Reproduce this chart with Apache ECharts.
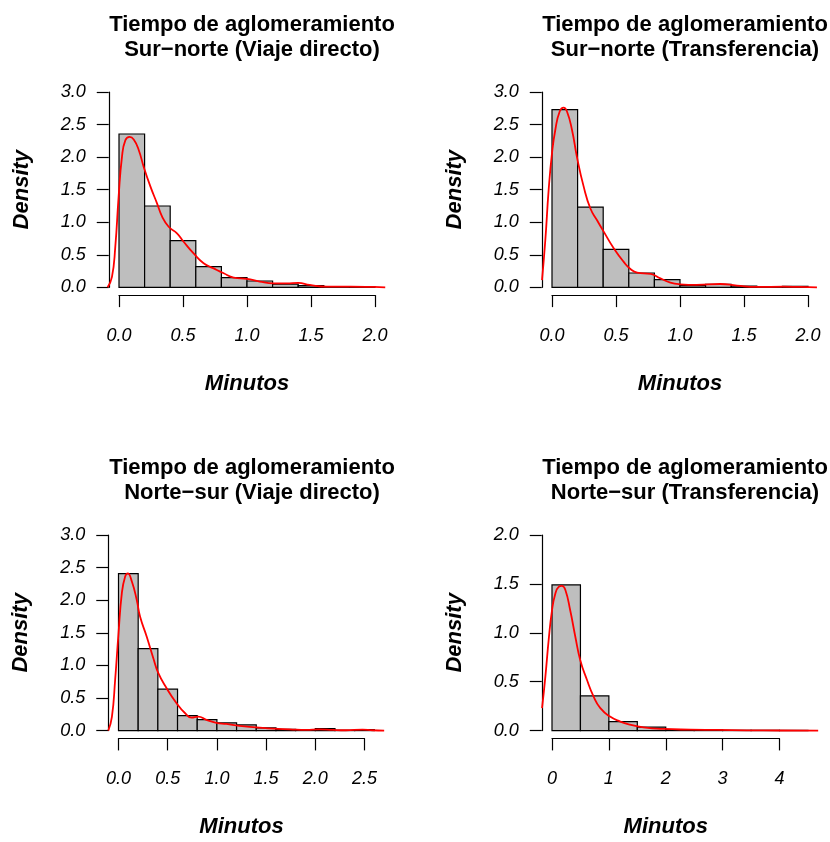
<!DOCTYPE html>
<html>
<head>
<meta charset="utf-8">
<script src="https://cdn.jsdelivr.net/npm/echarts@6/dist/echarts.min.js"></script>
<style>
  html, body { margin: 0; padding: 0; background: #fff; }
  #chart { width: 830px; height: 842px; }
</style>
</head>
<body>
<div id="chart"></div>
<script>
// Histogram bin edges (minutes) and densities for each route
const breaksSN_D = [0, 0.2, 0.4, 0.6, 0.8, 1.0, 1.2, 1.4, 1.6, 1.8, 2.0];
const densSN_D = [2.355, 1.249, 0.716, 0.317, 0.148, 0.097, 0.05, 0.026, 0.01, 0.01];

const breaksSN_T = [0, 0.2, 0.4, 0.6, 0.8, 1.0, 1.2, 1.4, 1.6, 1.8, 2.0];
const densSN_T = [2.728, 1.233, 0.583, 0.22, 0.117, 0.026, 0.046, 0.02, 0.003, 0.015];

const breaksNS_D = [0, 0.2, 0.4, 0.6, 0.8, 1.0, 1.2, 1.4, 1.6, 1.8, 2.0, 2.2, 2.4, 2.6];
const densNS_D = [2.408, 1.258, 0.635, 0.23, 0.169, 0.12, 0.087, 0.041, 0.02, 0.01, 0.03, 0.005, 0.015];

const breaksNS_T = [0, 0.5, 1.0, 1.5, 2.0, 2.5, 3.0, 3.5, 4.0, 4.5];
const densNS_T = [1.49, 0.355, 0.092, 0.035, 0.01, 0.007, 0.003, 0.003, 0.002];

// Kernel density estimates [minutes, density]
const kdeSN_D = [[-0.089,0],[-0.055,0.16],[-0.029,0.62],[-0.003,1.39],[0.023,2.0],[0.05,2.26],[0.083,2.31],
  [0.115,2.27],[0.154,2.11],[0.193,1.85],[0.245,1.55],[0.297,1.29],[0.336,1.09],[0.388,0.93],[0.453,0.83],
  [0.505,0.70],[0.583,0.52],[0.661,0.37],[0.74,0.29],[0.818,0.215],[0.896,0.15],[1.0,0.13],[1.10,0.087],
  [1.21,0.061],[1.31,0.061],[1.40,0.067],[1.49,0.036],[1.625,0.01],[1.81,0.01],[1.99,0.005],[2.08,0]];

const kdeSN_T = [[-0.078,0.11],[-0.052,0.73],[-0.026,1.50],[0,2.06],[0.026,2.42],[0.06,2.70],[0.091,2.76],
  [0.117,2.70],[0.156,2.42],[0.195,2.0],[0.247,1.55],[0.3,1.21],[0.352,1.03],[0.404,0.855],[0.482,0.60],
  [0.56,0.39],[0.613,0.28],[0.665,0.225],[0.77,0.205],[0.847,0.138],[0.925,0.072],[1.0,0.046],[1.13,0.036],
  [1.315,0.051],[1.445,0.026],[1.6,0.005],[1.81,0.01],[1.94,0.005],[2.07,0]];

const kdeNS_D = [[-0.104,0],[-0.067,0.21],[-0.034,0.78],[0,1.49],[0.034,2.11],[0.067,2.36],[0.094,2.41],
  [0.135,2.29],[0.186,2.0],[0.219,1.75],[0.287,1.44],[0.354,1.11],[0.405,0.88],[0.489,0.65],[0.59,0.42],
  [0.675,0.27],[0.742,0.20],[0.81,0.215],[0.894,0.164],[0.995,0.118],[1.096,0.102],[1.23,0.072],[1.40,0.051],
  [1.57,0.031],[1.74,0.02],[1.906,0.01],[2.04,0.02],[2.176,0.01],[2.31,0.005],[2.48,0.015],[2.58,0.005],[2.70,0]];

const kdeNS_T = [[-0.175,0.23],[-0.117,0.55],[-0.058,0.93],[0,1.23],[0.058,1.40],[0.117,1.47],[0.175,1.48],
  [0.234,1.44],[0.32,1.23],[0.41,0.96],[0.497,0.72],[0.614,0.52],[0.73,0.35],[0.85,0.23],[1.02,0.143],
  [1.2,0.092],[1.37,0.061],[1.61,0.034],[1.96,0.017],[2.43,0.01],[2.9,0.007],[3.42,0.003],[4.0,0.001],[4.68,0]];

const titles = [
  'Tiempo de aglomeramiento\nSur\u2212norte (Viaje directo)',
  'Tiempo de aglomeramiento\nSur\u2212norte (Transferencia)',
  'Tiempo de aglomeramiento\nNorte\u2212sur (Viaje directo)',
  'Tiempo de aglomeramiento\nNorte\u2212sur (Transferencia)'
];

const FONT = '"Liberation Sans", Arial, Helvetica, sans-serif';

// Each panel: `box` spans the tick range of the axes (0..xMax, 0..yMax)
const panels = [
  { box: { left: 119, top: 92, width: 256, height: 195.3 }, xMax: 2, xInt: 0.5, yMax: 3, dec: 1,
    breaks: breaksSN_D, dens: densSN_D, kde: kdeSN_D, cx: 247, ty: 7 },
  { box: { left: 552, top: 92, width: 256, height: 195.3 }, xMax: 2, xInt: 0.5, yMax: 3, dec: 1,
    breaks: breaksSN_T, dens: densSN_T, kde: kdeSN_T, cx: 680, ty: 7 },
  { box: { left: 118.5, top: 535, width: 246, height: 195.6 }, xMax: 2.5, xInt: 0.5, yMax: 3, dec: 1,
    breaks: breaksNS_D, dens: densNS_D, kde: kdeNS_D, cx: 247, ty: 450 },
  { box: { left: 552, top: 535, width: 227.5, height: 195.6 }, xMax: 4, xInt: 1, yMax: 2, dec: 0,
    breaks: breaksNS_T, dens: densNS_T, kde: kdeNS_T, cx: 680, ty: 450 }
];

// Plot region padded by 4% of the data range on each side; marks are drawn there
panels.forEach(p => {
  const b = p.box;
  const sx = b.width / p.xMax, sy = b.height / p.yMax;
  const bMax = p.breaks[p.breaks.length - 1];
  p.xPad = 0.04 * bMax;
  p.yPad = 0.04 * p.yMax;
  p.xLo = -p.xPad; p.xHi = bMax + p.xPad;
  p.yLo = -p.yPad; p.yHi = p.yMax + p.yPad;
  p.region = {
    left: b.left + p.xLo * sx,
    width: (p.xHi - p.xLo) * sx,
    top: b.top - p.yPad * sy,
    height: (p.yHi - p.yLo) * sy
  };
  p.xOff = p.xPad * sx;
  p.yOff = p.yPad * sy;
});

const axisLineStyle = { color: '#000', width: 1.2 };
const n = panels.length;

const option = {
  animation: false,
  backgroundColor: '#fff',
  title: panels.map((p, i) => ({
    text: titles[i],
    left: p.cx,
    top: p.ty,
    textAlign: 'center',
    textStyle: { fontFamily: FONT, fontWeight: 'bold', fontSize: 22, lineHeight: 25, color: '#000' }
  })),
  grid: panels.map(p => Object.assign({ containLabel: false }, p.box))
    .concat(panels.map(p => Object.assign({ containLabel: false }, p.region))),
  xAxis: panels.map((p, i) => ({
    type: 'value', gridIndex: i, min: 0, max: p.xMax, interval: p.xInt,
    offset: p.yOff,
    name: 'Minutos', nameLocation: 'middle', nameGap: 78,
    nameTextStyle: { fontFamily: FONT, fontWeight: 'bold', fontStyle: 'italic', fontSize: 22, color: '#000' },
    axisLine: { show: true, onZero: false, lineStyle: axisLineStyle },
    axisTick: { show: true, length: 12, inside: false, lineStyle: axisLineStyle },
    axisLabel: {
      margin: 32, fontFamily: FONT, fontStyle: 'italic', fontSize: 18, color: '#000',
      formatter: v => v.toFixed(p.dec), showMinLabel: true, showMaxLabel: true
    },
    splitLine: { show: false }
  })).concat(panels.map((p, i) => ({
    type: 'value', gridIndex: n + i, min: p.xLo, max: p.xHi, show: false,
    axisLine: { onZero: false }, splitLine: { show: false }
  }))),
  yAxis: panels.map((p, i) => ({
    type: 'value', gridIndex: i, min: 0, max: p.yMax, interval: 0.5,
    offset: p.xOff,
    name: 'Density', nameLocation: 'middle', nameGap: 76, nameRotate: 90,
    nameTextStyle: { fontFamily: FONT, fontWeight: 'bold', fontStyle: 'italic', fontSize: 22, color: '#000' },
    axisLine: { show: true, onZero: false, lineStyle: axisLineStyle },
    axisTick: { show: true, length: 12, inside: false, lineStyle: axisLineStyle },
    axisLabel: {
      margin: 23, fontFamily: FONT, fontStyle: 'italic', fontSize: 18, color: '#000',
      formatter: v => v.toFixed(1), showMinLabel: true, showMaxLabel: true
    },
    splitLine: { show: false }
  })).concat(panels.map((p, i) => ({
    type: 'value', gridIndex: n + i, min: p.yLo, max: p.yHi, show: false,
    axisLine: { onZero: false }, splitLine: { show: false }
  }))),
  series: []
};

panels.forEach((p, i) => {
  const bins = p.dens.map((d, k) => [p.breaks[k], p.breaks[k + 1], d]);
  option.series.push({
    type: 'custom',
    xAxisIndex: n + i, yAxisIndex: n + i,
    data: bins,
    encode: { x: [0, 1], y: 2 },
    renderItem: (params, api) => {
      const a = api.coord([api.value(0), api.value(2)]);
      const b = api.coord([api.value(1), 0]);
      return {
        type: 'rect',
        shape: { x: a[0], y: a[1], width: b[0] - a[0], height: b[1] - a[1] },
        style: { fill: '#BEBEBE', stroke: '#000', lineWidth: 1.2 }
      };
    }
  });
  option.series.push({
    type: 'line',
    xAxisIndex: n + i, yAxisIndex: n + i,
    data: p.kde,
    smooth: 0.5,
    symbol: 'none',
    lineStyle: { color: '#FF0000', width: 1.8 },
    z: 5
  });
});

const chart = echarts.init(document.getElementById('chart'), null, { renderer: 'canvas' });
chart.setOption(option);
</script>
</body>
</html>
